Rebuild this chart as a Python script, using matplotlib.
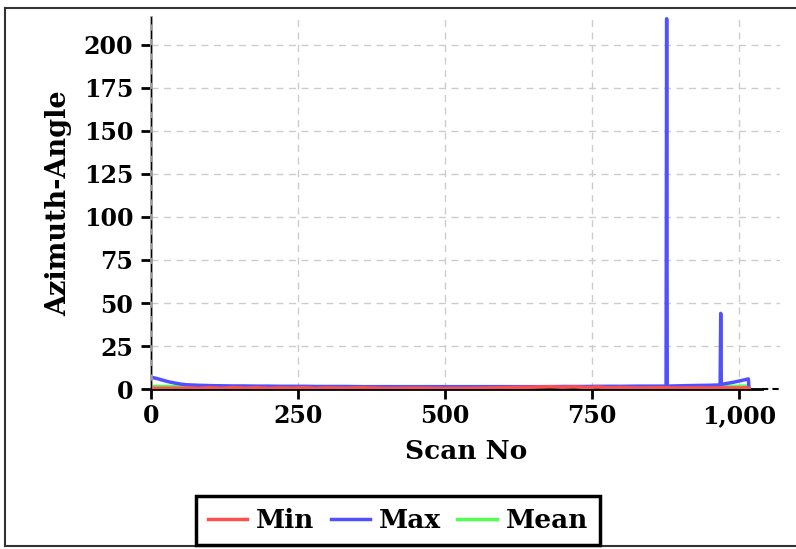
import matplotlib
matplotlib.use("Agg")
from matplotlib import pyplot as plt
from matplotlib.lines import Line2D
from matplotlib.ticker import FuncFormatter

# scan numbers and per-scan azimuth statistics
scan = [0, 10, 20, 30, 40, 50, 60, 80, 100, 120, 140, 160, 180, 200, 220, 240,
        260, 280, 300, 330, 360, 400, 450, 500, 550, 600, 650, 680, 700, 720,
        740, 760, 780, 800, 830, 860, 876, 877, 878, 900, 930, 950, 968, 969,
        970, 990, 1010, 1016, 1017]
az_max = [7.0, 6.2, 5.2, 4.3, 3.6, 3.0, 2.6, 2.3, 2.1, 2.0, 1.9, 1.9, 1.8, 1.8, 1.7, 1.7,
          1.7, 1.6, 1.6, 1.6, 1.5, 1.5, 1.5, 1.5, 1.5, 1.5, 1.5, 1.5, 1.6, 1.6,
          1.6, 1.7, 1.7, 1.7, 1.8, 1.8, 1.8, 215.0, 1.8, 2.0, 2.2, 2.3, 2.5, 44.0,
          2.8, 4.0, 5.5, 6.0, 0.8]
az_min = [0.5, 0.5, 0.6, 0.5, 0.6, 0.5, 0.7, 0.5, 0.9, 0.5, 1.0, 0.6, 0.9, 0.5, 0.8, 0.6,
          0.9, 0.5, 0.8, 0.6, 0.9, 0.5, 0.7, 0.5, 0.6, 0.9, 1.2, 1.5, 1.2, 1.4,
          1.0, 1.3, 0.8, 1.0, 0.7, 0.9, 0.8, 0.8, 0.8, 0.7, 0.8, 0.7, 0.8, 0.8,
          0.8, 0.7, 0.8, 0.8, 0.5]
az_mean = [1.6, 1.6, 1.6, 1.6, 1.6, 1.6, 1.5, 1.1, 1.1, 1.1, 1.1, 1.1, 1.1, 1.1, 1.1, 1.1,
           1.1, 1.1, 1.1, 1.1, 1.1, 1.1, 1.1, 1.1, 1.1, 1.1, 1.2, 1.2, 1.2, 1.2,
           1.2, 1.2, 1.2, 1.2, 1.2, 1.2, 1.2, 1.4, 1.2, 1.3, 1.3, 1.3, 1.4, 1.5,
           1.5, 1.6, 1.8, 1.8, 0.5]

plt.rcParams['font.family'] = 'DejaVu Serif'
plt.rcParams['font.weight'] = 'bold'

fig = plt.figure(figsize=(7.96, 5.49), dpi=100)
ax = fig.add_axes([0.19, 0.291, 0.79, 0.678])

ax.plot(scan, az_min, color="#ff5050", lw=2.5, label="Min", zorder=3)
ax.plot(scan, az_max, color="#5050ff", lw=2.5, label="Max", zorder=2)
ax.plot(scan, az_mean, color="#50ff50", lw=2.5, label="Mean", zorder=1)

ax.set_xlim(0, 1070)
ax.set_ylim(0, 216)
ax.set_yticks(range(0, 201, 25))
ax.set_xticks([0, 250, 500, 750, 1000])
ax.xaxis.set_major_formatter(FuncFormatter(lambda v, p: f"{int(v):,}"))
ax.grid(True, color="#cccccc", linestyle=(0, (5, 4)), lw=1)
ax.set_axisbelow(True)

for s in ("top", "right"):
    ax.spines[s].set_visible(False)
ax.spines["left"].set_color("#999999")
ax.spines["left"].set_linewidth(2)
ax.axvline(0, color="black", lw=1.5, ls=(0, (4, 3)), zorder=4)
ax.spines["bottom"].set_bounds(0, 1040)
ax.spines["bottom"].set_linewidth(2)
ax.plot([1040, 1070], [0, 0], color="black", lw=1.5, ls=(0, (3, 2)), clip_on=False)

ax.tick_params(axis="both", direction="out", length=7, width=2, labelsize=17, color="black")
ax.tick_params(axis="y", pad=6)
ax.set_xlabel("Scan No", fontsize=19, fontweight="bold", labelpad=8)
ax.set_ylabel("Azimuth-Angle", fontsize=19.5, fontweight="bold", labelpad=8)

leg = fig.legend(loc="lower center", bbox_to_anchor=(0.5, 0.007), ncol=3, fontsize=19,
                 frameon=True, fancybox=False, edgecolor="black", framealpha=1,
                 handlelength=1.5, columnspacing=0.6, handletextpad=0.35,
                 borderpad=0.45, borderaxespad=0.0)
leg.get_frame().set_linewidth(2.5)

# figure frame
for xs, ys in [([0.006, 0.006], [0.005, 0.986]), ([0.006, 1.0], [0.986, 0.986]),
               ([0.006, 1.0], [0.005, 0.005])]:
    fig.add_artist(Line2D(xs, ys, color="#333333", lw=1.5, transform=fig.transFigure))

fig.savefig("out.png", dpi=100)
